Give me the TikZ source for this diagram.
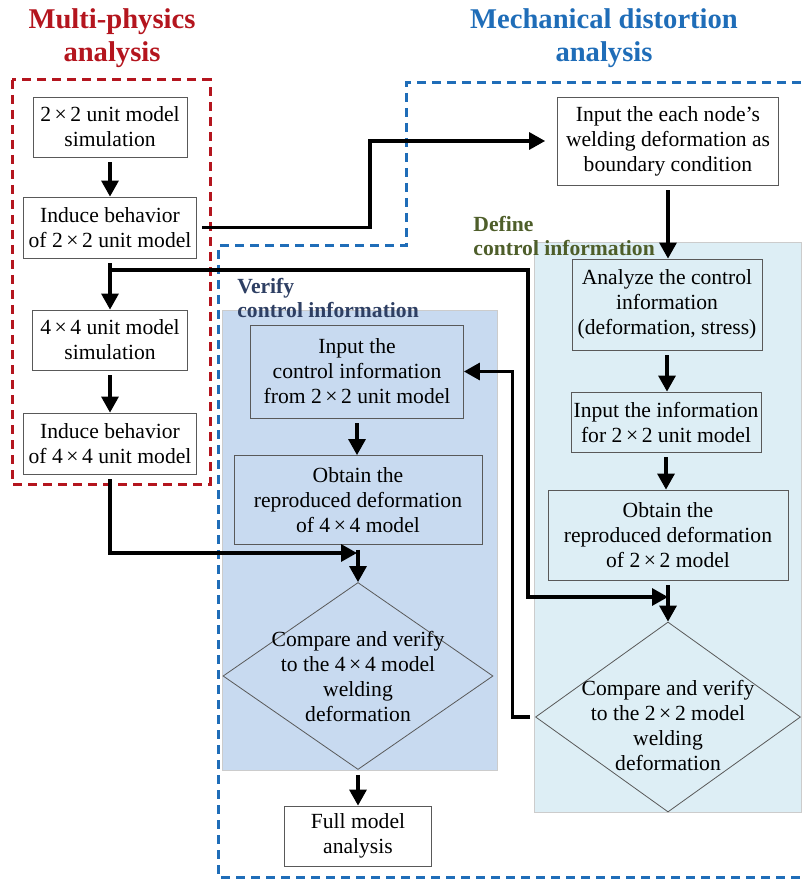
\documentclass[tikz,border=0pt]{standalone}
\usepackage{fontspec}
\setmainfont{Liberation Serif}
\usetikzlibrary{positioning,shapes.geometric,arrows.meta}
\definecolor{titlered}{HTML}{B4151E}
\definecolor{titleblue}{HTML}{1F6DB8}
\definecolor{verifyfill}{HTML}{C8DAF0}
\definecolor{definefill}{HTML}{DDEEF5}
\definecolor{definegreen}{HTML}{4E5E2A}
\definecolor{verifynavy}{HTML}{2E3F63}
\def\boxfont{\fontsize{10.8}{12.5}\selectfont}
\newcommand{\mtimes}{\,×\,}

\begin{document}
\begin{tikzpicture}[x=0.5pt, y=-0.5pt, >={Triangle[length=8pt,width=8.5pt]}]
        \tikzstyle{unit box}=[draw=black!65, fill=white, align=center, inner sep=1pt, font=\boxfont];
        \tikzstyle{panel box}=[unit box, fill=none];
        \tikzstyle{decision}=[diamond, draw=black!65, inner sep=0pt];
        \tikzstyle{arrow}=[->, line width=1.6pt, shorten <=2.5pt];
        \tikzstyle{link}=[line width=1.6pt];
        \tikzstyle{title}=[font=\fontsize{14.3}{16.5}\selectfont\bfseries, align=center];
        \tikzstyle{frame}=[line width=1.5pt, dash pattern=on 4.5pt off 3pt];
        \tikzstyle{panel}=[draw=black!20, line width=0.4pt];
        \tikzstyle{tag}=[font=\fontsize{10.8}{12}\selectfont\bfseries, align=left, anchor=west, inner sep=0pt];

        \useasboundingbox (0,0) rectangle (801,881);

        % shaded panels
        \filldraw[panel, fill=verifyfill] (222,310) rectangle (497,770);
        \filldraw[panel, fill=definefill] (534,242) rectangle (801,812);
        % dashed frames
        \draw[frame, titlered] (12,80) rectangle (210,484);
        \draw[frame, titleblue] (801,83) -- (406,83) -- (406,246) -- (218,246) -- (218,877) -- (801,877);

        % titles and panel tags
        \node[title, text=titlered] (multi) at (112,38) {Multi-physics\\analysis};
        \node[title, text=titleblue] (mech) at (604,38) {Mechanical distortion\\analysis};
        \node[tag, text=definegreen] (define) at (473,236) {Define\\control information};
        \node[tag, text=verifynavy] (verify) at (237,298) {Verify\\control information};

        % multi-physics column
        \node[unit box, minimum width=77pt, minimum height=30pt] (B1) at (110,127) {2\mtimes2 unit model\\simulation};
        \node[unit box, minimum width=86.5pt, minimum height=30.5pt] (B2) at (110,227.5) {Induce behavior\\of 2\mtimes2 unit model};
        \node[unit box, minimum width=77.5pt, minimum height=30pt] (B3) at (110,340) {4\mtimes4 unit model\\simulation};
        \node[unit box, minimum width=86.5pt, minimum height=30.5pt] (B4) at (110,443.5) {Induce behavior\\of 4\mtimes4 unit model};

        % verify column
        \node[panel box, minimum width=106.5pt, minimum height=46.5pt] (V1) at (357,371.5) {Input the\\control information\\from 2\mtimes2 unit model};
        \node[panel box, minimum width=124pt, minimum height=44.5pt] (V2) at (358,500) {Obtain the\\reproduced deformation\\of 4\mtimes4 model};
        \node[decision, minimum width=135pt, minimum height=93.5pt,
              label={[font=\boxfont, align=center]center:{Compare and verify\\to the 4\mtimes4 model\\welding\\deformation}}] (D1) at (358,676) {};
        \node[unit box, minimum width=73.5pt, minimum height=30pt] (Full) at (358,836) {Full model\\analysis};

        % define column
        \node[unit box, minimum width=110.5pt, minimum height=44pt] (R0) at (668,141) {Input the each node’s\\welding deformation as\\boundary condition};
        \node[panel box, minimum width=95pt, minimum height=45.5pt] (R1) at (667,304.5) {Analyze the control\\information\\(deformation, stress)};
        \node[panel box, minimum width=95pt, minimum height=30pt] (R2) at (666,422) {Input the information\\for 2\mtimes2 unit model};
        \node[panel box, minimum width=120pt, minimum height=45pt] (R3) at (668,535) {Obtain the\\reproduced deformation\\of 2\mtimes2 model};
        \node[decision, minimum width=132.5pt, minimum height=95pt,
              label={[font=\boxfont, align=center, yshift=-4pt]center:{Compare and verify\\to the 2\mtimes2 model\\welding\\deformation}}] (D2) at (668,717) {};

        % straight flow down each column
        \foreach \a/\b in {B1/B2, B3/B4, V1/V2, V2/D1, D1/Full, R0/R1, R1/R2, R2/R3, R3/D2}
            \draw[arrow] (\a.south) -- (\a.south |- \b.north);

        % 2x2 behaviour to the boundary condition
        \draw[arrow, shorten >=6pt] (B2.east) -- ++(173,0) |- (R0.west);
        % 2x2 behaviour to 4x4 simulation and 2x2 check
        \coordinate (split1) at (110,270);
        \coordinate (turn1) at (528,270);
        \coordinate (join2) at (668,597);
        \draw[link, shorten <=2.5pt] (B2.south) -- (split1);
        \draw[arrow, shorten <=0pt] (split1) -- (B3.north);
        \draw[arrow, shorten <=0pt] (split1) -- (turn1) |- (join2);
        % 4x4 behaviour into the 4x4 check
        \coordinate (join1) at (357,553);
        \draw[arrow] (B4.south) |- (join1);
        % feedback of the 2x2 check
        \draw[arrow] (D2.west) -- ++(-23,0) |- (V1.east);
\end{tikzpicture}
\end{document}
